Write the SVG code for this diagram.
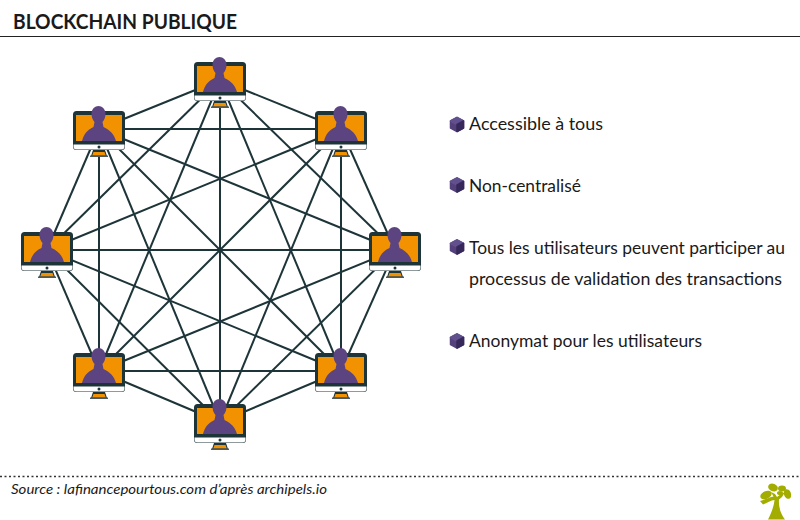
<svg xmlns="http://www.w3.org/2000/svg" xmlns:xlink="http://www.w3.org/1999/xlink" width="800" height="520" viewBox="0 0 800 520">
<style>
text{font-family:"Lato","Liberation Sans",sans-serif;fill:#1a1a1a}
.b{font-size:18px;font-weight:400}
#edges line{stroke:#1d3438;stroke-width:2}
</style>
<defs>
<g id="pc">
<rect x="-26" y="-18" width="52" height="39" rx="3.500" fill="#1d3438"/>
<path d="M-25.500 15.500H25.500V17.500a3 3 0 0 1-3 3H-22.500a3 3 0 0 1-3-3Z" fill="#fff"/>
<rect x="-23" y="-14" width="46" height="26" fill="#f39200"/>
<path d="M-17 12C-15 5-12 1-5.500-2L-4.500-7C-6.500-9-7.500-12-7.500-15.500C-7.500-20-4-23-.5-23C3-23 6.500-20 6.500-15.500C6.500-12 5.500-9 3.500-7L4.500-2C11 1 15 5 17 12Z" fill="#5c4480"/>
<circle cx="0" cy="18" r="1.500" fill="#1d3438"/>
<path d="M-6 21H6L8 27H-8Z" fill="#1d3438"/>
<path d="M-5.500 23H5.500L6.800 26.500H-6.800Z" fill="#f39200"/>
<rect x="-9" y="26.500" width="18" height="1.500" fill="#4a5a5e"/>
</g>
<g id="cube" stroke-linejoin="round" stroke-width="1.500">
<path d="M0-7L6.500-3.500V3.500L0 7L-6.500 3.500V-3.500Z" fill="#54417c" stroke="#54417c"/>
<path d="M0-7L6.500-3.500L0 0L-6.500-3.500Z" fill="#62508e" stroke="#62508e"/>
<path d="M0 0L6.500-3.500V3.500L0 7Z" fill="#36285a" stroke="#36285a"/>
</g>
</defs>
<rect width="800" height="520" fill="#fff"/>
<text x="13" y="28.500" font-size="20" font-weight="700" textLength="224" lengthAdjust="spacingAndGlyphs">BLOCKCHAIN PUBLIQUE</text>
<line x1="0" y1="36.500" x2="800" y2="36.500" stroke="#222" stroke-width="1"/>
<g id="edges">
<line x1="220" y1="80" x2="341" y2="129"/><line x1="220" y1="80" x2="395" y2="250"/><line x1="220" y1="80" x2="341" y2="371"/><line x1="220" y1="80" x2="220" y2="422"/><line x1="220" y1="80" x2="99" y2="371"/><line x1="220" y1="80" x2="47" y2="250"/><line x1="220" y1="80" x2="99" y2="129"/>
<line x1="341" y1="129" x2="395" y2="250"/><line x1="341" y1="129" x2="341" y2="371"/><line x1="341" y1="129" x2="220" y2="422"/><line x1="341" y1="129" x2="99" y2="371"/><line x1="341" y1="129" x2="47" y2="250"/><line x1="341" y1="129" x2="99" y2="129"/>
<line x1="395" y1="250" x2="341" y2="371"/><line x1="395" y1="250" x2="220" y2="422"/><line x1="395" y1="250" x2="99" y2="371"/><line x1="395" y1="250" x2="47" y2="250"/><line x1="395" y1="250" x2="99" y2="129"/>
<line x1="341" y1="371" x2="220" y2="422"/><line x1="341" y1="371" x2="99" y2="371"/><line x1="341" y1="371" x2="47" y2="250"/><line x1="341" y1="371" x2="99" y2="129"/>
<line x1="220" y1="422" x2="99" y2="371"/><line x1="220" y1="422" x2="47" y2="250"/><line x1="220" y1="422" x2="99" y2="129"/>
<line x1="99" y1="371" x2="47" y2="250"/><line x1="99" y1="371" x2="99" y2="129"/>
<line x1="47" y1="250" x2="99" y2="129"/>
</g>
<g id="node-top"><use xlink:href="#pc" href="#pc" x="220" y="80"/></g>
<g id="node-ne"><use xlink:href="#pc" href="#pc" x="341" y="129"/></g>
<g id="node-e"><use xlink:href="#pc" href="#pc" x="395" y="250"/></g>
<g id="node-se"><use xlink:href="#pc" href="#pc" x="341" y="371"/></g>
<g id="node-bottom"><use xlink:href="#pc" href="#pc" x="220" y="422"/></g>
<g id="node-sw"><use xlink:href="#pc" href="#pc" x="99" y="371"/></g>
<g id="node-w"><use xlink:href="#pc" href="#pc" x="47" y="250"/></g>
<g id="node-nw"><use xlink:href="#pc" href="#pc" x="99" y="129"/></g>
<g id="list">
<use xlink:href="#cube" href="#cube" x="457" y="124.500"/>
<text class="b" x="469" y="129.500" textLength="134" lengthAdjust="spacingAndGlyphs">Accessible à tous</text>
<use xlink:href="#cube" href="#cube" x="457" y="185"/>
<text class="b" x="469" y="192" textLength="112" lengthAdjust="spacingAndGlyphs">Non-centralisé</text>
<use xlink:href="#cube" href="#cube" x="457" y="247"/>
<text class="b" x="469" y="253.500" textLength="316" lengthAdjust="spacingAndGlyphs">Tous les utilisateurs peuvent participer au</text>
<text class="b" x="469" y="285" textLength="313" lengthAdjust="spacingAndGlyphs">processus de validation des transactions</text>
<use xlink:href="#cube" href="#cube" x="457" y="341"/>
<text class="b" x="469" y="347" textLength="233" lengthAdjust="spacingAndGlyphs">Anonymat pour les utilisateurs</text>
</g>
<line x1="0" y1="476.500" x2="800" y2="476.500" stroke="#333" stroke-width="1.500" stroke-dasharray="2 2.500"/>
<text x="11" y="493.500" font-size="14" font-style="italic" font-weight="400" textLength="316" lengthAdjust="spacingAndGlyphs" fill="#333">Source : lafinancepourtous.com d’après archipels.io</text>
<g id="logo" fill="#a2ad00">
<path d="M768 519.500C772 512 774 505 774.500 500C771 500 767 503 763 504.500L760 501C764 500 770 497 773.500 496.500L771 492L775 494L777 497L781 494L785 492L782 497L779 499.500C778.500 506 780 513 785 519.500Z"/>
<ellipse cx="766" cy="495" rx="6" ry="3.800" transform="rotate(-25 766 495)"/>
<ellipse cx="773" cy="487.500" rx="5" ry="3.800" transform="rotate(20 773 487.500)"/>
<ellipse cx="782" cy="488.500" rx="4" ry="3"/>
<ellipse cx="787.500" cy="494" rx="3.500" ry="5" transform="rotate(-20 787.500 494)"/>
<ellipse cx="780" cy="493" rx="3" ry="2"/>
</g>
</svg>
